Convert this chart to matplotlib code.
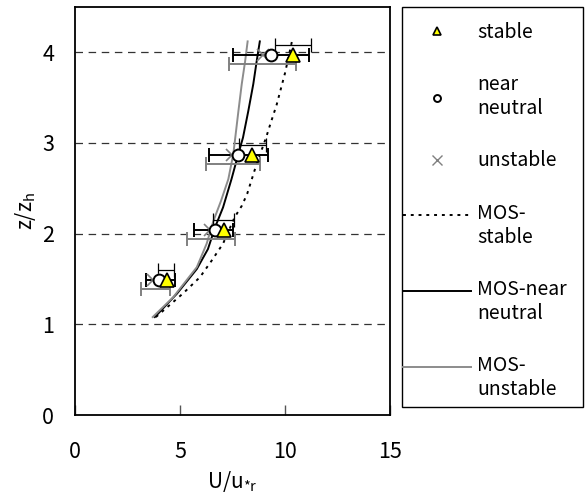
import numpy as np
import matplotlib.pyplot as plt
from matplotlib.patches import Rectangle
from matplotlib.legend_handler import HandlerLine2D

plt.rcParams['font.family'] = ['Noto Sans CJK JP', 'DejaVu Sans']
plt.rcParams['mathtext.default'] = 'regular'

# measured points (z/zh levels)
z_obs = [1.49, 2.04, 2.87, 3.97]
u_stable = [4.37, 7.1, 8.41, 10.4]
u_neutral = [4.02, 6.67, 7.74, 9.33]
u_unstable = [3.7, 6.43, 7.46, 8.95]

# error bar centres / half widths
eb_stable_c = [4.33, 7.07, 8.45, 10.38]
eb_stable_e = [0.38, 0.5, 0.64, 0.85]
eb_neutral_c = [4.07, 6.6, 7.79, 9.33]
eb_neutral_e = [0.69, 0.93, 1.4, 1.8]
eb_unstable_c = [3.83, 6.48, 7.52, 8.93]
eb_unstable_e = [0.7, 1.15, 1.3, 1.6]

# MOS profiles
z_mos_s = [1.08, 1.34, 1.52, 1.70, 1.89, 2.18, 2.31, 2.44, 2.77, 3.06, 3.2, 3.42, 3.77, 4.12]
u_mos_s = [3.85, 5.14, 5.95, 6.5, 7.05, 7.6, 7.95, 8.2, 8.65, 9.1, 9.29, 9.6, 10.0, 10.33]
z_mos_n = [1.08, 1.34, 1.61, 1.83, 2.07, 2.29, 2.6, 2.88, 3.06, 3.35, 3.65, 3.9, 4.12]
u_mos_n = [3.8, 4.86, 5.8, 6.33, 6.67, 7.05, 7.45, 7.78, 8.0, 8.25, 8.49, 8.65, 8.8]
z_mos_u = [1.08, 1.3, 1.63, 1.89, 2.14, 2.36, 2.6, 2.88, 3.35, 3.65, 3.9, 4.12]
u_mos_u = [3.7, 4.68, 5.8, 6.27, 6.59, 6.95, 7.3, 7.54, 7.78, 7.94, 8.1, 8.22]


class TopLineHandler(HandlerLine2D):
    """legend line drawn level with the first text line"""
    def create_artists(self, legend, orig_handle, xdescent, ydescent, width, height, fontsize, trans):
        arts = super().create_artists(legend, orig_handle, xdescent, ydescent,
                                      width, height, fontsize, trans)
        for a in arts:
            a.set_ydata(np.asarray(a.get_ydata()) + 0.6 * fontsize)
        return arts


fig = plt.figure(figsize=(5.87, 4.95), dpi=100)
ax = fig.add_axes([0.1278, 0.1616, 0.5366, 0.8244])

for z in [1, 2, 3, 4]:
    ax.axhline(z, color='#333333', lw=0.9, ls=(0, (6, 4.5)), zorder=1)

zs = np.array(z_obs)
ax.errorbar(eb_stable_c, zs + 0.11, xerr=eb_stable_e, fmt='none', ecolor='black',
            elinewidth=0.9, capsize=5, capthick=0.9, zorder=3)
ax.errorbar(eb_neutral_c, zs, xerr=eb_neutral_e, fmt='none', ecolor='black',
            elinewidth=1.4, capsize=5, capthick=1.4, zorder=3)
ax.errorbar(eb_unstable_c, zs - 0.1, xerr=eb_unstable_e, fmt='none', ecolor='#808080',
            elinewidth=1.4, capsize=5, capthick=1.4, zorder=3)

l1, = ax.plot(u_mos_s, z_mos_s, color='black', lw=1.4, ls=(0, (1.5, 2.5)), zorder=2)
l2, = ax.plot(u_mos_n, z_mos_n, color='black', lw=1.4, zorder=2)
l3, = ax.plot(u_mos_u, z_mos_u, color='#8c8c8c', lw=1.4, zorder=2)

m3, = ax.plot(u_unstable, z_obs, ls='none', marker='x', color='#808080', ms=9, mew=1.2, zorder=4)
m2, = ax.plot(u_neutral, z_obs, ls='none', marker='o', mfc='white', mec='black', ms=8.5, mew=1.4, zorder=5)
m1, = ax.plot(u_stable, z_obs, ls='none', marker='^', mfc='#ffff00', mec='black', ms=10, mew=1.2, zorder=6)

ax.set_xlim(0, 15)
ax.set_ylim(0, 4.5)
ax.set_xticks([0, 5, 10, 15])
ax.set_yticks([0, 1, 2, 3, 4])
ax.tick_params(axis='x', direction='in', length=7, width=1, color='#555555', pad=19, labelsize=15.5)
ax.tick_params(axis='y', length=0, pad=15, labelsize=15.5)
for s in ax.spines.values():
    s.set_linewidth(1.3)
ax.set_xlabel(r'U/u$_{*r}$', fontsize=15, labelpad=4)
ax.set_ylabel(r'z/z$_h$', fontsize=15, labelpad=3)

# legend box drawn as a figure rectangle
x0, y0, x1, y1 = 402 / 587, 1 - 407 / 495, 583 / 587, 1 - 7 / 495
fig.patches.append(Rectangle((x0, y0), x1 - x0, y1 - y0, transform=fig.transFigure,
                             fill=False, edgecolor='black', lw=1.0))

h1, = ax.plot([], [], ls='none', marker='^', mfc='#ffff00', mec='black', ms=6, mew=1.2)
h2, = ax.plot([], [], ls='none', marker='o', mfc='white', mec='black', ms=5, mew=1.4)
h3, = ax.plot([], [], ls='none', marker='x', color='#808080', ms=6.5, mew=1)

labels = ['stable', 'near\nneutral', 'unstable', 'MOS-\nstable', 'MOS-near\nneutral', 'MOS-\nunstable']
leg = fig.legend([h1, h2, h3, l1, l2, l3], labels,
                 loc='upper left', bbox_to_anchor=(403 / 587, 1 - 22 / 495),
                 fontsize=14, frameon=False,
                 handlelength=3.5, handletextpad=0.3, labelspacing=1.6,
                 borderpad=0, borderaxespad=0,
                 handler_map={l1: TopLineHandler(), l2: TopLineHandler(), l3: TopLineHandler()})
for t in leg.get_texts():
    t.set_linespacing(1.2)

fig.savefig('out.png', dpi=100)
